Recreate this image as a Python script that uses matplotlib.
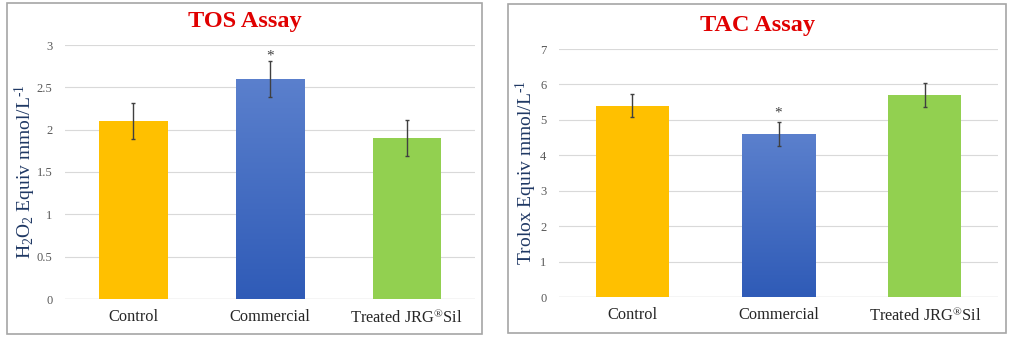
import numpy as np
import matplotlib
matplotlib.use("Agg")
import matplotlib.pyplot as plt
from matplotlib.patches import Rectangle
from matplotlib.colors import LinearSegmentedColormap

plt.rcParams['font.family'] = ['Liberation Serif', 'DejaVu Serif']
plt.rcParams['mathtext.fontset'] = 'custom'
plt.rcParams['mathtext.rm'] = 'Liberation Serif'
plt.rcParams['mathtext.it'] = 'Liberation Serif:italic'
plt.rcParams['mathtext.bf'] = 'Liberation Serif:bold'

# Data
categories = ["Control", "Commercial", "Treated JRG$^{\u00ae}$Sil"]
tos_values = [2.1, 2.6, 1.9]
tos_errors = [0.21, 0.21, 0.21]
tac_values = [5.4, 4.6, 5.7]
tac_errors = [0.33, 0.33, 0.33]
significant = [False, True, False]

W, H = 1024, 339
fig = plt.figure(figsize=(W / 100, H / 100), dpi=100)


def px_axes(x0, y0, x1, y1):
    return fig.add_axes([x0 / W, 1 - y1 / H, (x1 - x0) / W, (y1 - y0) / H])


def px_box(x0, y0, x1, y1):
    fig.patches.append(Rectangle((x0 / W, 1 - y1 / H), (x1 - x0) / W, (y1 - y0) / H,
                                 transform=fig.transFigure, fill=False,
                                 edgecolor='#A6A6A6', linewidth=1.2))


bar_colors = ['#FFC000', None, '#92D050']
blue_cmap = LinearSegmentedColormap.from_list('blue_grad', ['#2F5BB7', '#5B80CD'])


def panel(ax, values, errors, ymax, ystep, ylabel, star_offset, label_x):
    x = np.arange(len(values))
    bars = ax.bar(x, values, width=0.5, color=[c if c else 'none' for c in bar_colors],
                  zorder=2, linewidth=0)
    # gradient fill for the middle bar
    b = bars[1]
    grad = np.linspace(0, 1, 256).reshape(-1, 1)
    im = ax.imshow(grad, cmap=blue_cmap, aspect='auto', origin='lower',
                   extent=[b.get_x(), b.get_x() + b.get_width(), 0, b.get_height()],
                   zorder=2)
    im.set_clip_path(b)
    ax.errorbar(x, values, yerr=errors, fmt='none', ecolor='#404040',
                elinewidth=1.0, capsize=1.5, capthick=1.0, zorder=3)
    for xi, v, e, s in zip(x, values, errors, significant):
        if s:
            ax.annotate('*', (xi, v + e), xytext=(0, star_offset), textcoords='offset pixels',
                        ha='center', va='center', fontsize=11, color='#404040')
    ax.set_xlim(-0.5, len(values) - 0.5)
    ax.set_ylim(0, ymax)
    ticks = np.arange(0, ymax + 1e-9, ystep)
    ax.set_yticks(ticks)
    ax.set_yticklabels([f'{t:g}' for t in ticks])
    ax.yaxis.grid(True, color='#D9D9D9', linewidth=0.8, zorder=0)
    ax.set_axisbelow(True)
    for sp in ax.spines.values():
        sp.set_visible(False)
    ax.axhline(0, color='#D9D9D9', linewidth=1.0, zorder=1)
    ax.tick_params(axis='both', length=0)
    ax.tick_params(axis='y', labelsize=9, labelcolor='#595959', pad=9)
    ax.tick_params(axis='x', labelsize=11.8, labelcolor='#262626', pad=7)
    ax.set_xticks(x)
    ax.set_xticklabels(categories)
    ax.set_ylabel(ylabel, fontsize=14, color='#1F3864')
    ax.yaxis.label.set_verticalalignment('center')
    ax.yaxis.set_label_coords(label_x, 0.5)
    ax.set_facecolor('none')


# TOS panel
px_box(7, 3, 482, 334)
ax1 = px_axes(65, 45, 475, 299)
panel(ax1, tos_values, tos_errors, 3, 0.5,
      r"H$_2$O$_2$ Equiv mmol/L$^{\text{-1}}$", 5, (25 - 65) / 410)
fig.text(245 / W, 1 - 22 / H, "TOS Assay", ha='center', va='center',
         fontsize=17.5, fontweight='bold', color='#E00000')

# TAC panel
px_box(508, 4, 1006, 333)
ax2 = px_axes(559, 49, 998, 297)
panel(ax2, tac_values, tac_errors, 7, 1,
      r"Trolox Equiv mmol/L$^{\text{-1}}$", 9, (526 - 559) / 439)
fig.text(757 / W, 1 - 25 / H, "TAC Assay", ha='center', va='center',
         fontsize=17.5, fontweight='bold', color='#E00000')

fig.savefig('out.png', dpi=100)
